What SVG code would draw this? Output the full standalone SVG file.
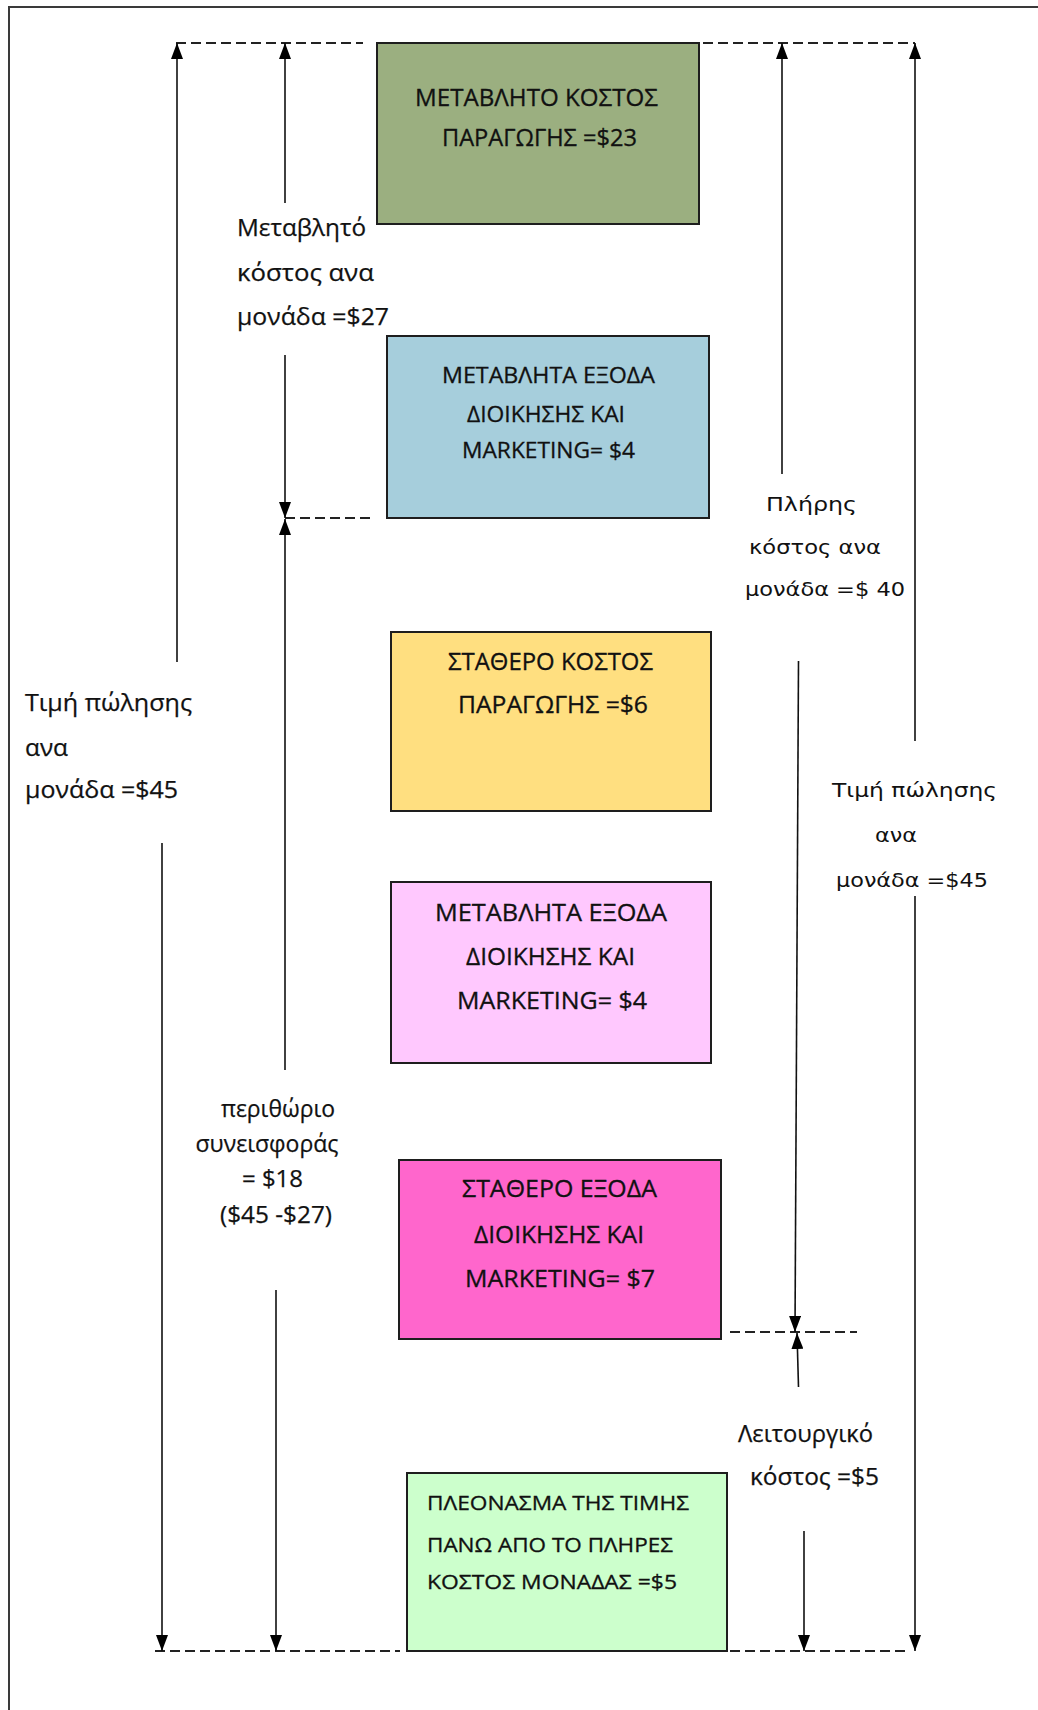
<svg xmlns="http://www.w3.org/2000/svg" width="1038" height="1710" viewBox="0 0 1038 1710">
  <style>
    .frame { fill: none; stroke: #3a3a3a; stroke-width: 2; }
    .box { stroke: #1e1e1e; stroke-width: 2; }
    .bt { font-family: "Open Sans", "Noto Sans", sans-serif; fill: #111; stroke: #111; stroke-width: 0.3; }
    .lbl { font-family: "Open Sans", "Noto Sans", sans-serif; font-size: 24px; fill: #111; stroke: #111; stroke-width: 0.25; }
    .lblv { font-family: "DejaVu Sans", Verdana, sans-serif; font-size: 20px; fill: #111; }
    .dim { fill: none; stroke: #111; stroke-width: 1.6; marker-end: url(#tip); }
    .guide { fill: none; stroke: #222; stroke-width: 1.9; stroke-dasharray: 10 5; }
  </style>
  <defs>
    <marker id="tip" markerUnits="userSpaceOnUse" viewBox="0 0 16 12" markerWidth="16" markerHeight="12" refX="16" refY="6" orient="auto">
      <path d="M0,0 L16,6 L0,12 z" fill="#000"/>
    </marker>
  </defs>

  <rect width="1038" height="1710" fill="#fff"/>
  <rect class="frame" x="9" y="7" width="1100" height="1800"/>

  <!-- cost blocks -->
  <g id="variable-production-cost">
    <rect class="box" x="377" y="43" width="322" height="181" fill="#9BAF80"/>
    <text class="bt" font-size="24" x="415" y="106" textLength="243" lengthAdjust="spacingAndGlyphs">ΜΕΤΑΒΛΗΤΟ ΚΟΣΤΟΣ</text>
    <text class="bt" font-size="24" x="442" y="146" textLength="195" lengthAdjust="spacingAndGlyphs">ΠΑΡΑΓΩΓΗΣ =$23</text>
  </g>

  <g id="variable-admin-marketing-1">
    <rect class="box" x="387" y="336" width="322" height="182" fill="#A6CEDC"/>
    <text class="bt" font-size="22" x="442" y="383" textLength="213" lengthAdjust="spacingAndGlyphs">ΜΕΤΑΒΛΗΤΑ  ΕΞΟΔΑ</text>
    <text class="bt" font-size="22" x="467" y="422" textLength="158" lengthAdjust="spacingAndGlyphs">ΔΙΟΙΚΗΣΗΣ ΚΑΙ</text>
    <text class="bt" font-size="22" x="462" y="458" textLength="173" lengthAdjust="spacingAndGlyphs">MARKETING= $4</text>
  </g>

  <g id="fixed-production-cost">
    <rect class="box" x="391" y="632" width="320" height="179" fill="#FFDF80"/>
    <text class="bt" font-size="23" x="448" y="670" textLength="205" lengthAdjust="spacingAndGlyphs">ΣΤΑΘΕΡΟ  ΚΟΣΤΟΣ</text>
    <text class="bt" font-size="23" x="458" y="713" textLength="190" lengthAdjust="spacingAndGlyphs">ΠΑΡΑΓΩΓΗΣ =$6</text>
  </g>

  <g id="variable-admin-marketing-2">
    <rect class="box" x="391" y="882" width="320" height="181" fill="#FFC8FE"/>
    <text class="bt" font-size="24" x="435" y="921" textLength="232" lengthAdjust="spacingAndGlyphs">ΜΕΤΑΒΛΗΤΑ ΕΞΟΔΑ</text>
    <text class="bt" font-size="24" x="466" y="965" textLength="169" lengthAdjust="spacingAndGlyphs">ΔΙΟΙΚΗΣΗΣ ΚΑΙ</text>
    <text class="bt" font-size="24" x="457" y="1009" textLength="190" lengthAdjust="spacingAndGlyphs">MARKETING= $4</text>
  </g>

  <g id="fixed-admin-marketing">
    <rect class="box" x="399" y="1160" width="322" height="179" fill="#FF66CC"/>
    <text class="bt" font-size="24" x="462" y="1197" textLength="195" lengthAdjust="spacingAndGlyphs">ΣΤΑΘΕΡΟ  ΕΞΟΔΑ</text>
    <text class="bt" font-size="24" x="474" y="1243" textLength="170" lengthAdjust="spacingAndGlyphs">ΔΙΟΙΚΗΣΗΣ ΚΑΙ</text>
    <text class="bt" font-size="24" x="465" y="1287" textLength="190" lengthAdjust="spacingAndGlyphs">MARKETING= $7</text>
  </g>

  <g id="surplus-over-full-cost">
    <rect class="box" x="407" y="1473" width="320" height="178" fill="#CCFFCC"/>
    <text class="bt" font-size="20" x="427" y="1510" textLength="262" lengthAdjust="spacingAndGlyphs">ΠΛΕΟΝΑΣΜΑ  ΤΗΣ ΤΙΜΗΣ</text>
    <text class="bt" font-size="20" x="427" y="1552" textLength="246" lengthAdjust="spacingAndGlyphs">ΠΑΝΩ ΑΠΟ ΤΟ  ΠΛΗΡΕΣ</text>
    <text class="bt" font-size="20" x="427" y="1589" textLength="250" lengthAdjust="spacingAndGlyphs">ΚΟΣΤΟΣ ΜΟΝΑΔΑΣ =$5</text>
  </g>

  <!-- dimension lines and guides -->
  <g id="connectors">
    <line class="guide" x1="176" y1="43" x2="363" y2="43"/>
    <line class="guide" x1="703" y1="43" x2="915" y2="43"/>
    <line class="guide" x1="285" y1="518" x2="372" y2="518"/>
    <line class="guide" x1="730" y1="1332" x2="857" y2="1332"/>
    <line class="guide" x1="155" y1="1651" x2="400" y2="1651"/>
    <line class="guide" x1="730" y1="1651" x2="908" y2="1651"/>

    <!-- selling price, left -->
    <line class="dim" x1="177" y1="662" x2="177" y2="43"/>
    <line class="dim" x1="162" y1="843" x2="162" y2="1651"/>
    <!-- variable cost per unit -->
    <line class="dim" x1="285" y1="203" x2="285" y2="43"/>
    <line class="dim" x1="285" y1="355" x2="285" y2="518"/>
    <!-- contribution margin -->
    <line class="dim" x1="285" y1="1070" x2="285" y2="519"/>
    <line class="dim" x1="276" y1="1290" x2="276" y2="1651"/>
    <!-- full cost per unit -->
    <line class="dim" x1="782" y1="474" x2="782" y2="43"/>
    <line class="dim" x1="798.5" y1="661" x2="795" y2="1332"/>
    <!-- operating profit -->
    <line class="dim" x1="798.5" y1="1387" x2="797" y2="1333"/>
    <line class="dim" x1="804" y1="1531" x2="804" y2="1651"/>
    <!-- selling price, right -->
    <line class="dim" x1="915" y1="741" x2="915" y2="43"/>
    <line class="dim" x1="915" y1="896" x2="915" y2="1651"/>
  </g>

  <!-- dimension labels -->
  <g id="label-variable-cost">
    <text class="lbl" x="237" y="236" textLength="129" lengthAdjust="spacingAndGlyphs">Μεταβλητό</text>
    <text class="lbl" x="237" y="281" textLength="137" lengthAdjust="spacingAndGlyphs">κόστος  ανα</text>
    <text class="lbl" x="237" y="325" textLength="152" lengthAdjust="spacingAndGlyphs">μονάδα =$27</text>
  </g>

  <g id="label-price-left">
    <text class="lbl" x="25" y="711" textLength="167" lengthAdjust="spacingAndGlyphs">Τιμή πώλησης</text>
    <text class="lbl" x="25" y="756" textLength="43" lengthAdjust="spacingAndGlyphs">ανα</text>
    <text class="lbl" x="25" y="798" textLength="153" lengthAdjust="spacingAndGlyphs">μονάδα =$45</text>
  </g>

  <g id="label-contribution">
    <text class="lbl" font-size="21" text-anchor="middle" x="278" y="1117" textLength="114" lengthAdjust="spacingAndGlyphs">περιθώριο</text>
    <text class="lbl" font-size="21" text-anchor="middle" x="267" y="1152" textLength="143" lengthAdjust="spacingAndGlyphs">συνεισφοράς</text>
    <text class="lbl" font-size="21" text-anchor="middle" x="272.5" y="1187" textLength="61" lengthAdjust="spacingAndGlyphs">= $18</text>
    <text class="lbl" font-size="21" text-anchor="middle" x="276" y="1223" textLength="112" lengthAdjust="spacingAndGlyphs">($45 -$27)</text>
  </g>

  <g id="label-full-cost">
    <text class="lblv" x="766" y="511" textLength="91" lengthAdjust="spacingAndGlyphs">Πλήρης</text>
    <text class="lblv" x="749" y="554" textLength="132" lengthAdjust="spacingAndGlyphs">κόστος  ανα</text>
    <text class="lblv" x="745" y="596" textLength="160" lengthAdjust="spacingAndGlyphs">μονάδα =$ 40</text>
  </g>

  <g id="label-price-right">
    <text class="lblv" x="832" y="797" textLength="165" lengthAdjust="spacingAndGlyphs">Τιμή πώλησης</text>
    <text class="lblv" x="875" y="842" textLength="42" lengthAdjust="spacingAndGlyphs">ανα</text>
    <text class="lblv" x="836" y="887" textLength="152" lengthAdjust="spacingAndGlyphs">μονάδα =$45</text>
  </g>

  <g id="label-operating">
    <text class="lbl" font-size="21" x="738" y="1442" textLength="135" lengthAdjust="spacingAndGlyphs">Λειτουργικό</text>
    <text class="lbl" font-size="21" x="750" y="1485" textLength="129" lengthAdjust="spacingAndGlyphs">κόστος  =$5</text>
  </g>
</svg>
